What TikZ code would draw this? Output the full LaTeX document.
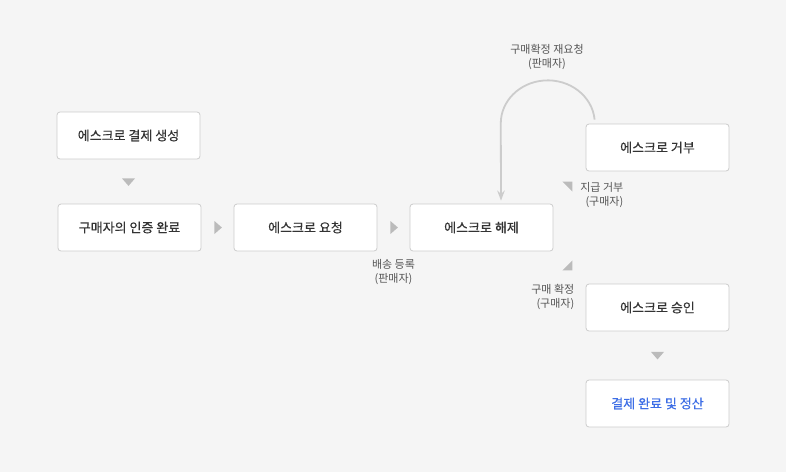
\documentclass[tikz,border=0pt]{standalone}
\usepackage{fontspec}
\setmainfont{Noto Sans CJK KR}
\newfontfamily\boxfont[FakeBold=0.35]{Noto Sans CJK KR}
\usetikzlibrary{arrows.meta,calc}
\definecolor{bg}{HTML}{F5F5F5}
\definecolor{boxline}{HTML}{CCCCCC}
\definecolor{boxtext}{HTML}{333333}
\definecolor{labtext}{HTML}{555555}
\definecolor{tri}{HTML}{BBBBBB}
\definecolor{arcc}{HTML}{CCCCCC}
\definecolor{blue}{HTML}{3D6EE6}
\begin{document}
\begin{tikzpicture}[x=1pt,y=-1pt,
  stepbox/.style={draw=boxline, line width=0.8pt, fill=white, rounded corners=3pt,
    minimum width=143pt, minimum height=47pt, inner sep=0pt,
    font=\boxfont\fontsize{13}{15}\selectfont, text=boxtext},
  lab/.style={font=\fontsize{11}{14}\selectfont, text=labtext, inner sep=0pt},
  trimark/.style={fill=tri, draw=none}]
\fill[bg] (0,0) rectangle (786,472);
\useasboundingbox (0,0) rectangle (786,472);

\node[stepbox] (create) at (128.5,135.5) {에스크로 결제 생성};
\node[stepbox] (auth) at (129.5,227.5) {구매자의 인증 완료};
\node[stepbox] (req) at (305.5,227.5) {에스크로 요청};
\node[stepbox] (rel) at (481.5,227.5) {에스크로 해제};
\node[stepbox] (rej) at (657.5,147.5) {에스크로 거부};
\node[stepbox] (app) at (657.5,307.5) {에스크로 승인};
\node[stepbox, text=blue] (done) at (657.5,403.5) {결제 완료 및 정산};

% down triangles
\fill[trimark] ($(create.south)+(-6.5,19)$) -- ++(13,0) -- ++(-6.5,7.5) -- cycle;
\fill[trimark] ($(app.south)+(-6.5,20.5)$) -- ++(13,0) -- ++(-6.5,7.5) -- cycle;
% right triangles
\fill[trimark] ($(auth.east)+(13,-6.5)$) -- ++(0,13) -- ++(7.5,-6.5) -- cycle;
\fill[trimark] ($(req.east)+(13,-6.5)$) -- ++(0,13) -- ++(7.5,-6.5) -- cycle;
% corner triangles
\fill[trimark] ($(rel.north east)+(9,-22)$) -- ++(10,0) -- ++(0,10) -- cycle;
\fill[trimark] ($(rel.south east)+(19,9)$) -- ++(0,10) -- ++(-10,0) -- cycle;

% re-request arc
\coordinate (arcR) at ($(rej.north west)+(9,-4)$);
\coordinate (tip) at ($(rel.north)+(19.5,-3)$);
\draw[arcc, line width=1.8pt, -{Stealth[length=10pt,width=7.5pt]}]
  (arcR) arc[start angle=-5, end angle=-180, x radius=47, y radius=43] -- (tip);

% labels
\node[lab, align=center] (l1) at (547,57) {구매확정 재요청\\(판매자)};
\node[lab, align=center] (l2) at (393.5,272) {배송 등록\\(판매자)};
\node[lab, align=right, anchor=east] (l3) at (623.5,195) {지급 거부\\(구매자)};
\node[lab, align=right, anchor=east] (l4) at (574.5,297) {구매 확정\\(구매자)};
\end{tikzpicture}
\end{document}
